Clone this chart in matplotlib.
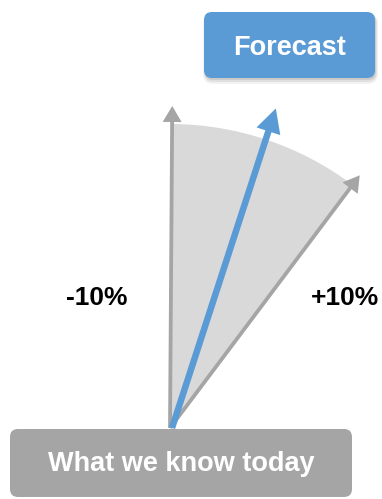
import numpy as np
import matplotlib
matplotlib.use("Agg")
import matplotlib.pyplot as plt
from matplotlib.patches import FancyBboxPatch, Wedge, FancyArrow

# arrows: angle from vertical (deg, clockwise) and length in px
arrow_names = ["-10%", "forecast", "+10%"]
arrow_angles = [0.4, 18.0, 36.9]
arrow_lengths = [322, 336, 316]
side_labels = ["-10%", "+10%"]
box_labels = ["What we know today", "Forecast"]

W, H = 382, 499
blue = "#5b9bd5"
gray = "#a5a5a5"
light = "#d9d9d9"

fig = plt.figure(figsize=(W / 100, H / 100), dpi=100)
ax = fig.add_axes([0, 0, 1, 1])
ax.set_xlim(0, W)
ax.set_ylim(H, 0)
ax.set_aspect("equal")
ax.axis("off")

plt.rcParams["font.family"] = ["Liberation Sans", "DejaVu Sans"]

ox, oy = 170, 428

# shaded fan between the -10% and +10% arrows
th1 = -90 + arrow_angles[0]
th2 = -90 + arrow_angles[2]
ax.add_patch(Wedge((ox, oy), 304, th1, th2, facecolor=light, edgecolor="none", zorder=1))

for name, ang, length in zip(arrow_names, arrow_angles, arrow_lengths):
    a = np.deg2rad(ang)
    dx = length * np.sin(a)
    dy = -length * np.cos(a)
    if name == "forecast":
        ax.add_patch(FancyArrow(ox + 2, oy, dx, dy, width=6.5, head_width=25, head_length=24,
                                length_includes_head=True, color=blue, lw=0, zorder=4))
    else:
        ax.add_patch(FancyArrow(ox, oy, dx, dy, width=3.8, head_width=19, head_length=16,
                                length_includes_head=True, color=gray, lw=0, zorder=3))

# side labels
ax.text(97, 298, side_labels[0], ha="center", va="center", fontsize=19,
        fontweight="bold", color="black")
ax.text(345, 298, side_labels[1], ha="center", va="center", fontsize=19,
        fontweight="bold", color="black")

# bottom box
ax.add_patch(FancyBboxPatch((10 + 8, 429 + 8), 342 - 16, 68 - 16,
                            boxstyle="round,pad=8", facecolor=gray, edgecolor="none", zorder=5))
ax.text(181, 464, box_labels[0], ha="center", va="center", fontsize=19.5,
        fontweight="bold", color="white", zorder=6)

# forecast box with soft shadow
for i, al in enumerate([0.05, 0.07, 0.09]):
    off = 4 - i
    ax.add_patch(FancyBboxPatch((204 + 8 + 1, 12 + 8 + off), 171 - 16, 66 - 16,
                                boxstyle="round,pad=%d" % (8 + 2 - i), facecolor="black",
                                edgecolor="none", alpha=al, zorder=5))
ax.add_patch(FancyBboxPatch((204 + 8, 12 + 8), 171 - 16, 66 - 16,
                            boxstyle="round,pad=8", facecolor=blue, edgecolor="none", zorder=6))
ax.text(290, 48, box_labels[1], ha="center", va="center", fontsize=19.5,
        fontweight="bold", color="white", zorder=7)

fig.savefig("out.png", dpi=100)
